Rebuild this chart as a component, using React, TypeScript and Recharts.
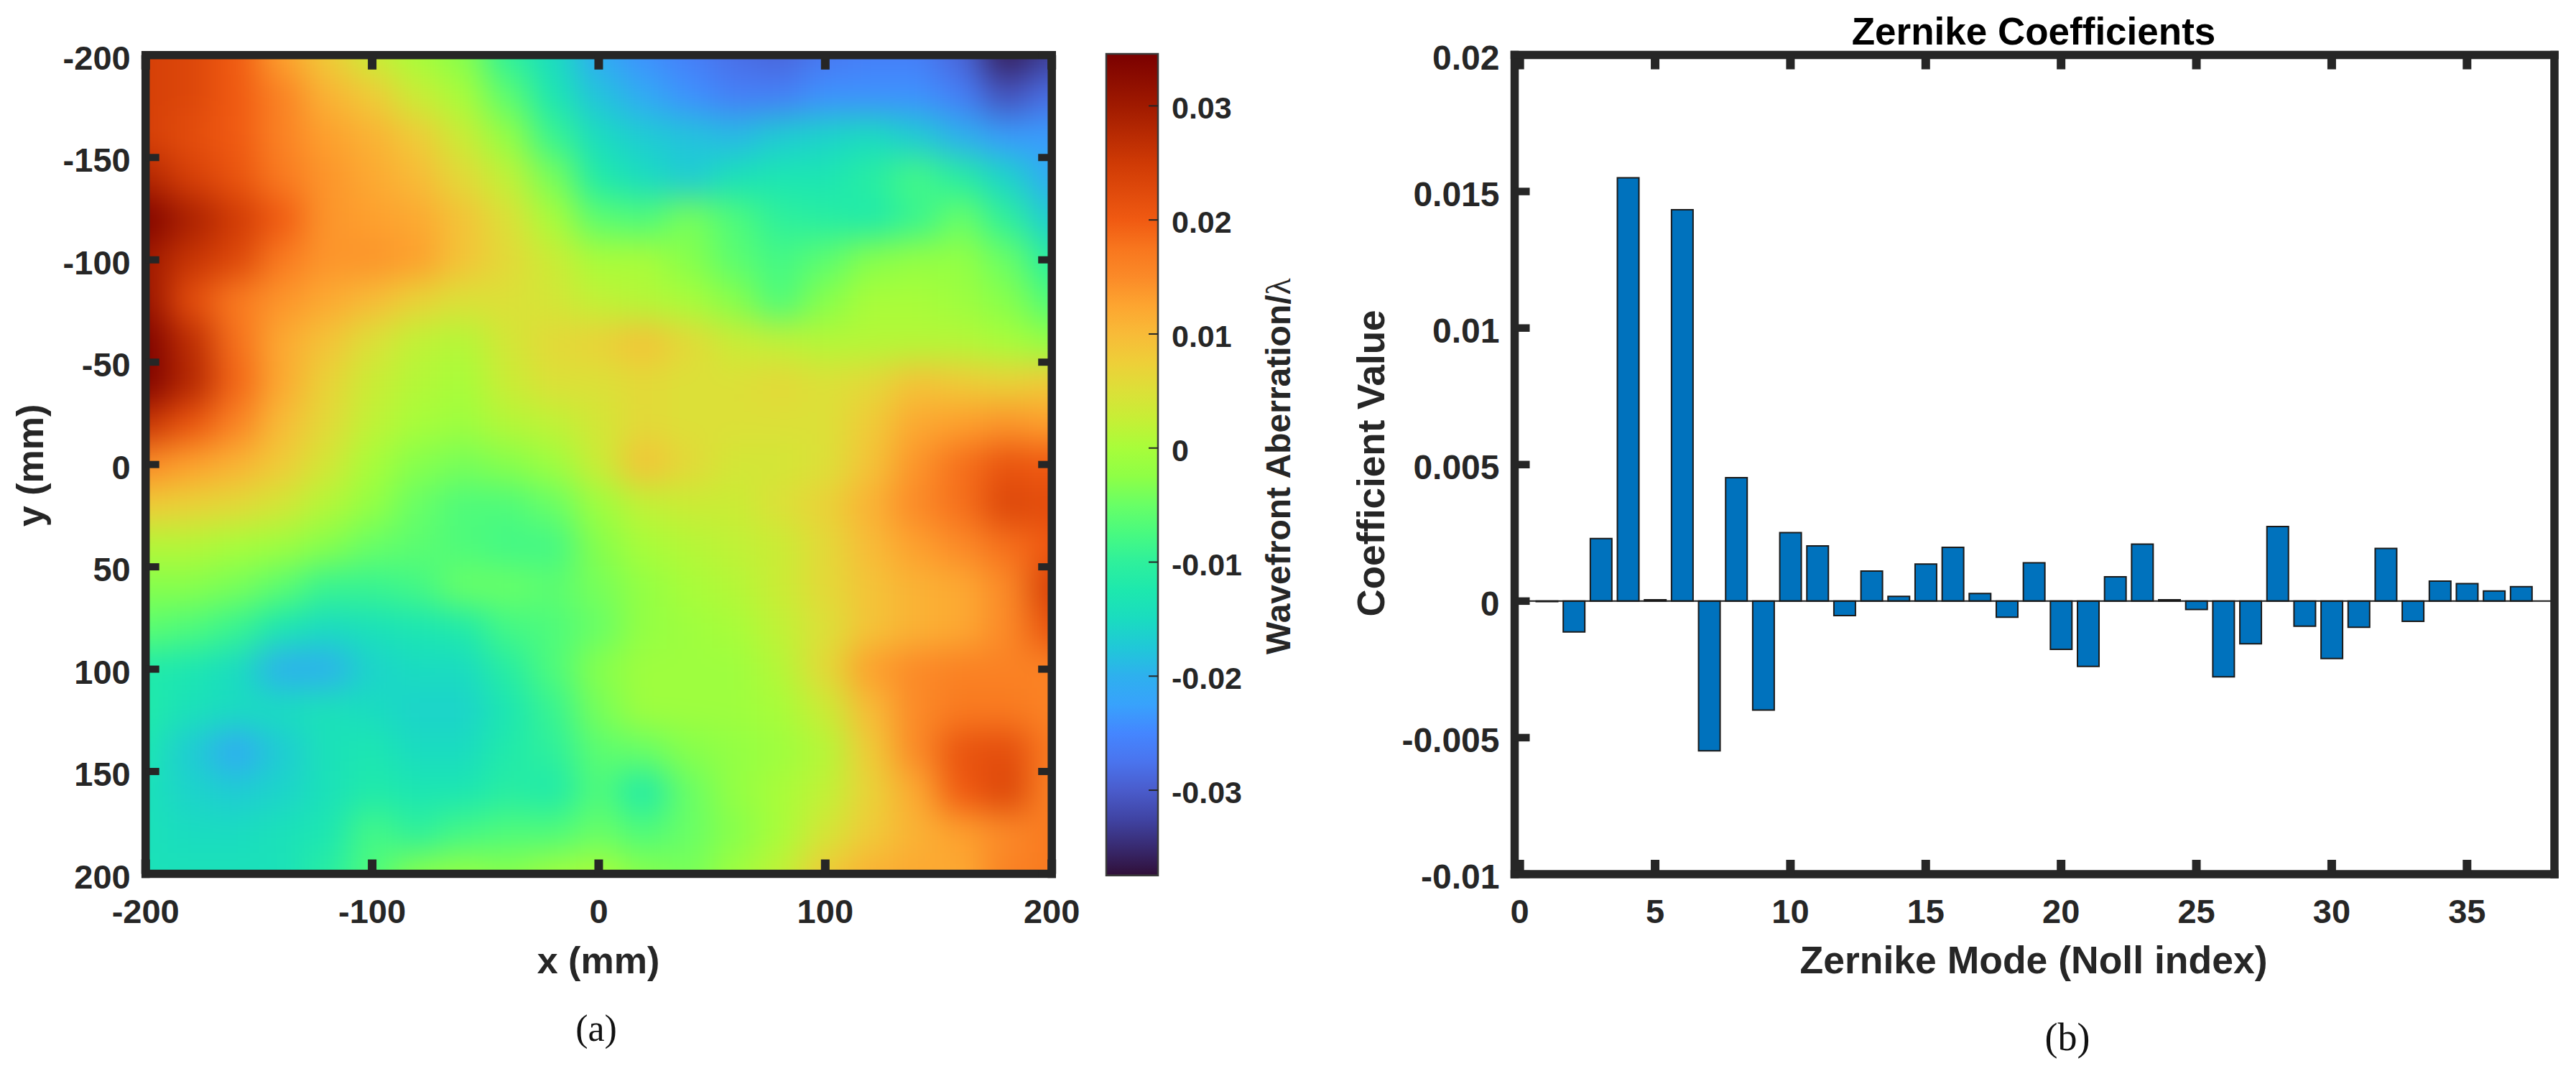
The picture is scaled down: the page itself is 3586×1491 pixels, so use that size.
import { BarChart, Bar, ScatterChart, Scatter, XAxis, YAxis, ReferenceLine } from "recharts";

const W = 3586;
const H = 1491;
const INK = "#262626";
const FONT = "'Liberation Sans', Arial, sans-serif";

// left panel axes
const mapXTicks = [-200, -100, 0, 100, 200];
const mapYTicks = [-200, -150, -100, -50, 0, 50, 100, 150, 200];
// sample positions of the wavefront map, mm
const gridX = [-200, -180, -160, -140, -120, -100, -80, -60, -40, -20, 0, 20, 40, 60, 80, 100, 120, 140, 160, 180, 200];
const gridY = [-200, -180, -160, -140, -120, -100, -80, -60, -40, -20, 0, 20, 40, 60, 80, 100, 120, 140, 160, 180, 200];
// wavefront aberration, in units of 0.001 wavelengths, one row per gridY
const wavefrontRows = [
  [24, 23, 20, 13, 8, 3, 0, -3, -10, -15, -21, -24, -26, -28, -29, -27, -26, -26, -29, -36, -33],
  [24, 23, 20, 16, 11, 8, 3, 0, -6, -13, -18, -21, -24, -26, -26, -24, -24, -24, -26, -31, -28],
  [24, 22, 20, 16, 13, 11, 8, 3, -2, -9, -15, -17, -18, -19, -17, -16, -15, -17, -20, -23, -23],
  [28, 24, 21, 17, 14, 12, 10, 6, 2, -4, -12, -15, -17, -14, -13, -13, -11, -8, -11, -16, -21],
  [34, 29, 25, 20, 14, 13, 12, 9, 5, 0, -6, -7, -4, -7, -10, -11, -12, -9, -5, -10, -17],
  [30, 26, 23, 17, 14, 14, 13, 9, 6, 3, 0, 0, -3, -6, -8, -6, -3, -2, -2, -5, -11],
  [31, 22, 17, 14, 12, 10, 7, 5, 5, 4, 2, 1, 0, -3, -7, -3, 0, 0, -1, -3, -7],
  [34, 27, 18, 12, 9, 5, 2, 1, 4, 6, 7, 9, 6, 3, 2, 1, 1, 1, 1, 0, -2],
  [34, 28, 19, 12, 7, 3, 1, 0, 3, 5, 5, 6, 5, 5, 6, 5, 6, 9, 8, 7, 8],
  [26, 21, 16, 10, 6, 2, 0, -1, 1, 2, 4, 6, 5, 5, 5, 5, 8, 12, 13, 14, 13],
  [15, 13, 11, 8, 4, 0, -3, -4, -3, -1, 3, 9, 6, 4, 4, 5, 9, 14, 18, 21, 20],
  [8, 7, 6, 4, 1, -2, -5, -7, -7, -5, -1, 2, 3, 3, 5, 7, 11, 15, 18, 23, 22],
  [1, 1, 0, -1, -3, -5, -6, -7, -8, -8, -3, 0, 1, 2, 3, 6, 10, 13, 15, 18, 20],
  [-3, -3, -4, -6, -9, -9, -8, -5, -5, -6, -4, -2, 0, 1, 3, 6, 9, 11, 12, 15, 24],
  [-6, -7, -9, -13, -15, -14, -13, -12, -8, -7, -5, -2, -1, 0, 2, 5, 9, 11, 12, 15, 21],
  [-12, -13, -15, -20, -20, -16, -15, -15, -11, -7, -3, -1, -1, -1, 1, 6, 13, 15, 16, 16, 16],
  [-12, -14, -15, -15, -14, -15, -16, -16, -13, -9, -4, -1, -1, -1, 0, 3, 10, 15, 17, 17, 16],
  [-13, -17, -21, -17, -14, -13, -15, -15, -12, -10, -6, -5, -3, -2, -1, 1, 8, 15, 21, 22, 17],
  [-14, -16, -17, -16, -14, -12, -13, -13, -11, -12, -7, -12, -5, -2, 0, 2, 7, 12, 20, 23, 16],
  [-14, -15, -15, -14, -13, -8, -10, -8, -7, -7, -5, -7, -5, -3, 0, 4, 8, 11, 13, 15, 17],
  [-14, -14, -14, -14, -11, -7, -3, -2, -3, -1, 0, -3, -4, -1, 2, 8, 11, 12, 12, 16, 17],
];

// colorbar
const barMin = -0.03747;
const barMax = 0.03456;
const barTicks = [-0.03, -0.02, -0.01, 0, 0.01, 0.02, 0.03];
// colours, at these values (0.001 wavelengths)
const scaleValues = [-37.5, -35, -32.5, -30, -27.5, -25, -22.5, -20, -17.5, -15, -12.5, -10, -7.5, -5, -2.5, 0, 2.5, 5, 7.5, 10, 12.5, 15, 17.5, 20, 25, 30, 34.6];
const scaleColors = [
  "#300f38", "#382a70", "#4044a4", "#4a5ccc", "#4a74ee", "#4486ff", "#38a2fc", "#2eb0ee", "#20c8d8", "#1adcc0", "#1de8ae", "#2ef09c", "#48fa80",
  "#68ff66", "#8eff46", "#a8fd3a", "#c6ef36", "#dce038", "#eecf38", "#f8bb38", "#fda530", "#fb8a28", "#f8761e", "#f05a12", "#cf3a05", "#a01a00", "#7a0000",
];

// right panel
const modes = [
  1, 2, 3, 4, 5, 6, 7, 8, 9, 10, 11, 12, 13, 14, 15, 16, 17, 18, 19, 20, 21, 22, 23, 24, 25, 26, 27, 28, 29, 30, 31, 32, 33, 34, 35, 36, 37,
];
const coefficients = [
  -0.00002, -0.00113, 0.00229, 0.0155, 0.00005, 0.01433, -0.00548, 0.00452, -0.00399, 0.00251, 0.00202, -0.00053, 0.0011,
  0.00017, 0.00136, 0.00197, 0.00028, -0.00059, 0.0014, -0.00177, -0.00239, 0.00089, 0.00209, 0.00005, -0.00031, -0.00277,
  -0.00156, 0.00273, -0.00092, -0.0021, -0.00096, 0.00193, -0.00074, 0.00073, 0.00064, 0.00037, 0.00053,
];
const modeTicks = [0, 5, 10, 15, 20, 25, 30, 35];
const coefTicks = [-0.01, -0.005, 0, 0.005, 0.01, 0.015, 0.02];

const heatData = gridY.flatMap((y, r) => gridX.map((x, c) => ({ x, y, value: wavefrontRows[r][c] })));
const barData = modes.map((mode, i) => ({ mode, value: coefficients[i] }));
const colorbarData = [{ name: "scale", span: [barMin, barMax] }];

const channel = (hex: string, i: number) => parseInt(hex.slice(1 + i * 2, 3 + i * 2), 16);
// colour of a map value, mixed between the two nearest colorbar entries
const colorOf = (v: number) => {
  const found = scaleValues.findIndex((s) => s >= v);
  const next = found < 0 ? scaleValues.length - 1 : Math.max(1, found);
  const f = Math.min(1, Math.max(0, (v - scaleValues[next - 1]) / (scaleValues[next] - scaleValues[next - 1])));
  const mix = [0, 1, 2].map((i) => Math.round(channel(scaleColors[next - 1], i) * (1 - f) + channel(scaleColors[next], i) * f));
  return `rgb(${mix.join(",")})`;
};

const HeatCell = ({ cx, cy, payload }: any) => {
  const w = 64;
  const h = 58;
  // edge cells run past the plot so the blur does not fade at the border
  const left = payload.x === -200 ? 90 : w / 2;
  const right = payload.x === 200 ? 90 : w / 2;
  const top = payload.y === -200 ? 90 : h / 2;
  const bottom = payload.y === 200 ? 90 : h / 2;
  return <rect x={cx - left} y={cy - top} width={left + right} height={top + bottom} fill={colorOf(payload.value)} />;
};

const tickLabel = { fontFamily: FONT, fontWeight: 700, fill: INK } as const;

const bottomTick = (len: number, w: number, size: number) => ({ x, y, payload }: any) => (
  <g>
    <line x1={x} y1={y} x2={x} y2={y - len} stroke={INK} strokeWidth={w} />
    <text x={x} y={y + 68} textAnchor="middle" fontSize={size} {...tickLabel}>
      {payload.value}
    </text>
  </g>
);
const topTick = (len: number, w: number) => ({ x, y }: any) => (
  <line x1={x} y1={y} x2={x} y2={y + len} stroke={INK} strokeWidth={w} />
);
const leftTick = (len: number, w: number, size: number) => ({ x, y, payload }: any) => (
  <g>
    <line x1={x} y1={y} x2={x + len} y2={y} stroke={INK} strokeWidth={w} />
    <text x={x - 21} y={y + 20} textAnchor="end" fontSize={size} {...tickLabel}>
      {payload.value}
    </text>
  </g>
);
const rightTick = (len: number, w: number) => ({ x, y }: any) => (
  <line x1={x} y1={y} x2={x - len} y2={y} stroke={INK} strokeWidth={w} />
);
const barTick = ({ x, y, payload }: any) => (
  <g>
    <line x1={x} y1={y} x2={x - 13} y2={y} stroke={INK} strokeWidth={2} />
    <text x={x + 19} y={y + 18} fontSize={43} {...tickLabel}>
      {payload.value}
    </text>
  </g>
);

const frameLine = { stroke: INK, strokeWidth: 11.5, strokeLinecap: "square" as const };
const axisBase = { tickSize: 0, tickMargin: 0, tickLine: false, interval: 0 as const, axisLine: frameLine };
const layer = { position: "absolute" as const, left: 0, top: 0 };
const mapMargin = { left: 202.7, right: W - 1464.2, top: 76.8, bottom: H - 1216.5 };
// axes need a size of at least 1 to draw, so the framed charts give that back from the margin
const mapAxisMargin = { left: 201.7, right: W - 1465.2, top: 75.8, bottom: H - 1217.5 };

const axisText = (x: number, y: number, size: number, text: any, rotate = false, fill = INK) => (
  <text
    x={x}
    y={y}
    textAnchor="middle"
    fontSize={size}
    fontFamily={FONT}
    fontWeight={700}
    fill={fill}
    transform={rotate ? `rotate(-90 ${x} ${y})` : undefined}
  >
    {text}
  </text>
);

export default function App() {
  return (
    <div style={{ ...layer, width: W, height: H, background: "#fff", overflow: "hidden" }}>
      <style>{`.heat .recharts-scatter { filter: blur(23px); clip-path: url(#heatClip); }`}</style>

      {/* wavefront map, blurred sample cells */}
      <div className="heat" style={layer}>
        <ScatterChart width={W} height={H} margin={mapMargin}>
          <defs>
            <clipPath id="heatClip">
              <rect x={202.7} y={76.8} width={1261.5} height={1139.7} />
            </clipPath>
          </defs>
          <XAxis type="number" dataKey="x" domain={[-200, 200]} hide />
          <YAxis type="number" dataKey="y" domain={[-200, 200]} reversed hide />
          <Scatter data={heatData} shape={HeatCell} isAnimationActive={false} />
        </ScatterChart>
      </div>

      {/* frame, ticks and labels of the map */}
      <div style={layer}>
        <ScatterChart width={W} height={H} margin={mapAxisMargin}>
          <XAxis {...axisBase} type="number" dataKey="x" height={1} domain={[-200, 200]} ticks={mapXTicks} tick={bottomTick(20, 12, 47)} />
          <XAxis {...axisBase} xAxisId="top" orientation="top" type="number" dataKey="x" height={1} domain={[-200, 200]} ticks={mapXTicks} tick={topTick(20, 12)} />
          <YAxis {...axisBase} type="number" dataKey="y" width={1} reversed domain={[-200, 200]} ticks={mapYTicks} tick={leftTick(19, 10, 47)} />
          <YAxis {...axisBase} yAxisId="right" orientation="right" type="number" dataKey="y" width={1} reversed domain={[-200, 200]} ticks={mapYTicks} tick={rightTick(19, 10)} />
          <Scatter data={heatData} shape={() => null} isAnimationActive={false} />
          <Scatter data={heatData} xAxisId="top" yAxisId="right" shape={() => null} isAnimationActive={false} />
          {axisText(833, 1355, 52, "x (mm)")}
          {axisText(60, 648, 52, "y (mm)", true)}
        </ScatterChart>
      </div>

      {/* colorbar */}
      <div style={layer}>
        <BarChart
          width={W}
          height={H}
          data={colorbarData}
          barCategoryGap={0}
          margin={{ left: 1540, right: W - 1613, top: 75, bottom: H - 1218.7 }}
        >
          <defs>
            <linearGradient id="scaleBar" x1="0" y1="1" x2="0" y2="0">
              {scaleValues.map((s, i) => (
                <stop key={s} offset={(s * 0.001 - barMin) / (barMax - barMin)} stopColor={scaleColors[i]} />
              ))}
            </linearGradient>
          </defs>
          <XAxis dataKey="name" hide />
          <YAxis
            orientation="right"
            type="number"
            width={1}
            domain={[barMin, barMax]}
            ticks={barTicks}
            tickSize={0}
            tickMargin={0}
            tickLine={false}
            interval={0}
            axisLine={false}
            tick={barTick}
          />
          <Bar dataKey="span" fill="url(#scaleBar)" stroke="#3a3a3a" strokeWidth={2.5} isAnimationActive={false} />
          <text x={1796} y={649} textAnchor="middle" fontSize={48} fontFamily={FONT} fontWeight={700} fill={INK} transform="rotate(-90 1796 649)">
            Wavefront Aberration/<tspan fontFamily="'Liberation Serif', serif" fontWeight={400}>λ</tspan>
          </text>
        </BarChart>
      </div>

      {/* Zernike coefficients */}
      <div style={layer}>
        <BarChart width={W} height={H} data={barData} margin={{ left: 2107.5, right: W - 3557, top: 75.5, bottom: H - 1218 }}>
          <XAxis {...axisBase} type="number" dataKey="mode" height={1} domain={[-0.19, 38.23]} ticks={modeTicks} tick={bottomTick(20, 12, 47)} />
          <XAxis {...axisBase} xAxisId="top" orientation="top" type="number" dataKey="mode" height={1} domain={[-0.19, 38.23]} ticks={modeTicks} tick={topTick(20, 12)} />
          <YAxis {...axisBase} type="number" width={1} domain={[-0.01, 0.02]} ticks={coefTicks} tick={leftTick(21, 10.5, 48)} />
          <YAxis {...axisBase} yAxisId="right" orientation="right" type="number" width={1} domain={[-0.01, 0.02]} ticks={coefTicks} tick={rightTick(21, 10.5)} />
          <ReferenceLine y={0} stroke="#1a1a1a" strokeWidth={2} />
          <Bar dataKey="value" barSize={30} fill="#0072BD" stroke="#1a1a1a" strokeWidth={2} isAnimationActive={false} />
          {axisText(2831, 62, 53, "Zernike Coefficients", false, "#000")}
          {axisText(2831, 1355, 53.5, "Zernike Mode (Noll index)")}
          {axisText(1927, 645, 53, "Coefficient Value", true)}
        </BarChart>
      </div>

      {/* panel captions */}
      <svg width={W} height={H} style={layer}>
        <text x={830} y={1449} textAnchor="middle" fontSize={52} fontFamily="'Liberation Serif', serif" fill="#111">
          (a)
        </text>
        <text x={2878} y={1462} textAnchor="middle" fontSize={54} fontFamily="'Liberation Serif', serif" fill="#111">
          (b)
        </text>
      </svg>
    </div>
  );
}
